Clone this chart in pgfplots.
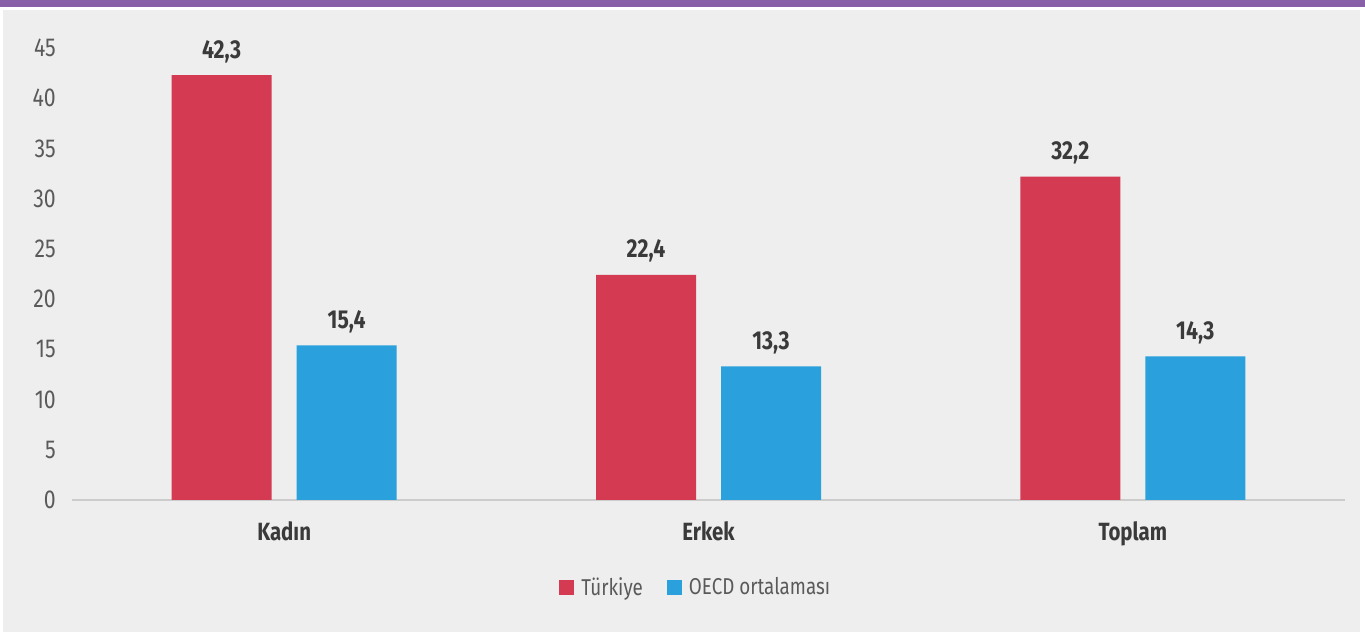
\documentclass[border=0pt]{standalone}
\usepackage{pgfplots}
\pgfplotsset{compat=1.18}
\usepackage{fontspec}
\setmainfont{Fira Sans}[FakeStretch=0.82]
\definecolor{bg}{HTML}{EEEEEE}
\definecolor{topbar}{HTML}{8860A8}
\definecolor{cred}{HTML}{D53A53}
\definecolor{cblue}{HTML}{2AA1DC}
\definecolor{axgray}{HTML}{CCCCCC}
\definecolor{ticktxt}{HTML}{5A5A5A}
\definecolor{lbltxt}{HTML}{3A3A3A}
\begin{document}
\begin{tikzpicture}[x=1bp,y=1bp]
\fill[white] (0,0) rectangle (1365,632);
\fill[bg] (3,0) rectangle (1360,622);
\fill[topbar] (0,625) rectangle (1365,632);
\begin{axis}[
  at={(72bp,132bp)}, anchor=south west,
  scale only axis, width=1273bp, height=452bp,
  xmin=-0.5, xmax=2.5, ymin=0, ymax=45,
  ybar, bar width=100bp,
  axis x line*=bottom, axis y line*=left,
  x axis line style={draw=axgray, line width=2bp, -},
  y axis line style={draw=none},
  major tick length=0pt,
  xtick=data, xticklabels={Kadın,Erkek,Toplam},
  xticklabel style={font=\fontsize{25}{28}\selectfont\bfseries, text=lbltxt, yshift=-18bp},
  ytick={0,5,...,45},
  yticklabel style={font=\fontsize{26}{30}\selectfont, text=ticktxt, anchor=east, inner sep=0pt, xshift=-16bp},
  /pgf/number format/assume math mode=true,
  nodes near coords={\pgfmathprintnumber[fixed,fixed zerofill,precision=1,use comma]{\pgfplotspointmeta}},
  nodes near coords style={font=\fontsize{26}{30}\selectfont\bfseries, text=lbltxt, yshift=9bp, /pgf/number format/assume math mode=true},
  legend style={at={(0.49,-0.1925)}, anchor=center, draw=none, fill=none, legend columns=2,
     font=\fontsize{23}{27}\selectfont, text=ticktxt,
     /tikz/every odd column/.append style={column sep=5bp},
     /tikz/every even column/.append style={column sep=22bp}},
  legend image code/.code={\fill[#1] (0bp,-7.5bp) rectangle (15bp,7.5bp);},
  clip=false,
]
\addplot[fill=cred, draw=none, bar shift=-62.5bp] coordinates {(0,42.3) (1,22.4) (2,32.2)};
\addplot[fill=cblue, draw=none, bar shift=62.5bp] coordinates {(0,15.4) (1,13.3) (2,14.3)};
\legend{Türkiye,OECD ortalaması}
\end{axis}
\end{tikzpicture}
\end{document}
